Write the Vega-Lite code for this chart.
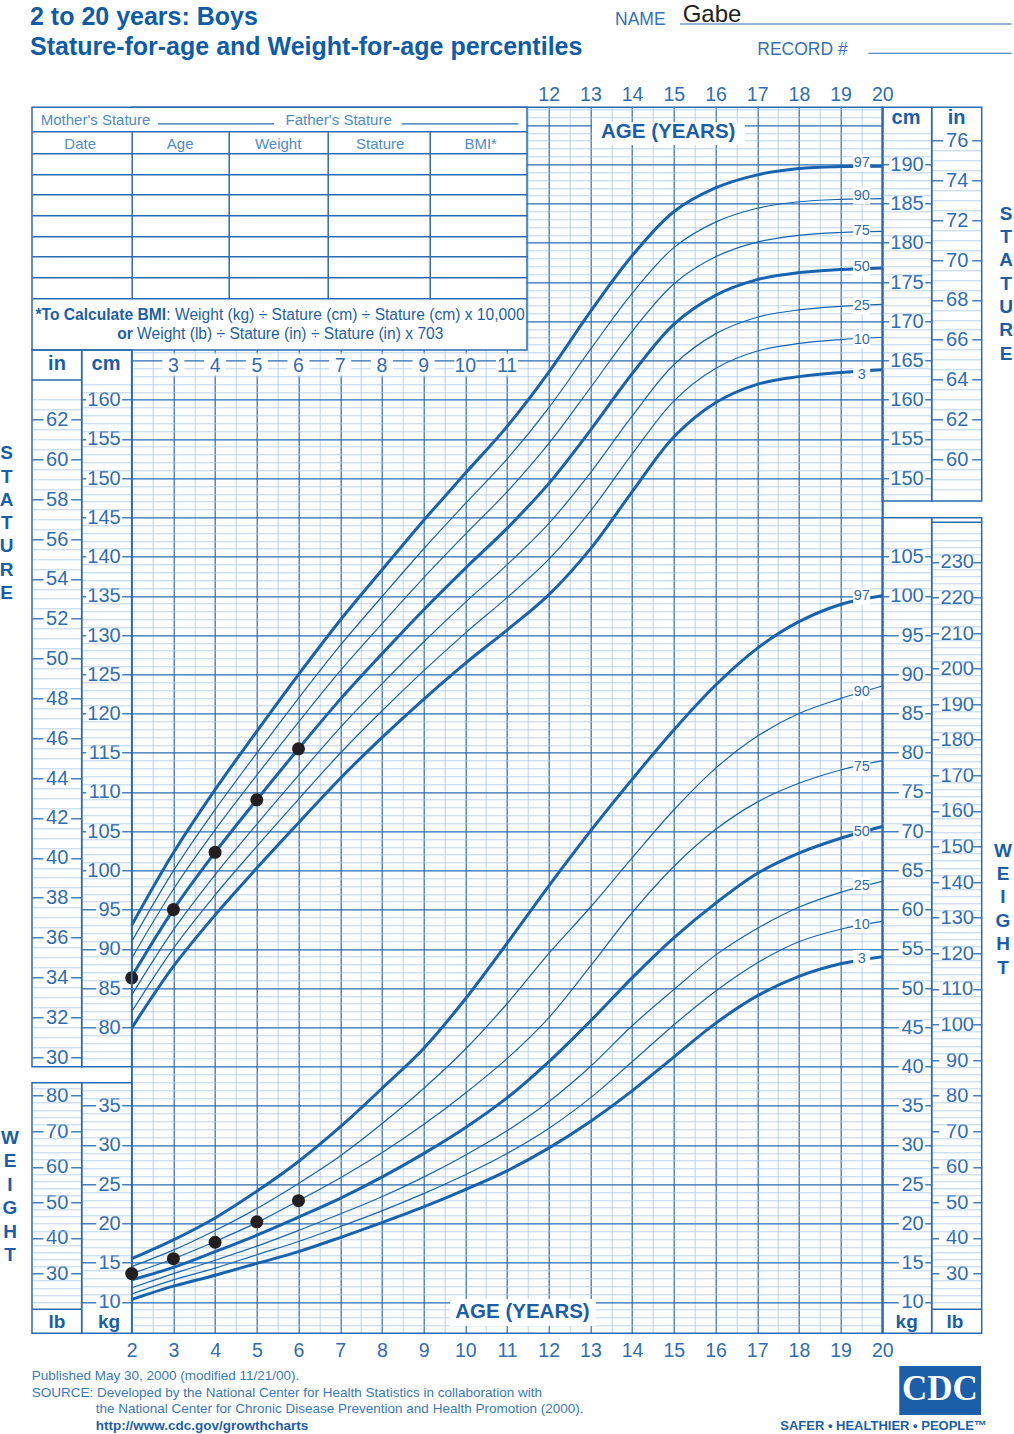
{
"$schema":"https://vega.github.io/schema/vega-lite/v6.json",
"width":750.6,"height":1226,"autosize":"none",
"padding":{"left":131.7,"top":107.3,"right":131.7,"bottom":100.7},
"background":"white",
"config":{"view":{"stroke":null},"axis":{"labelFont":"Liberation Sans","labelFlush":false,"labelOverlap":false,"labelBound":false},"text":{"font":"Liberation Sans"}},
"datasets":{
"stature":[
{"age":2,"p3":79.90,"p10":81.99,"p25":84.10,"p50":86.45,"p75":88.80,"p90":90.92,"p97":93.00},
{"age":3,"p3":87.76,"p10":90.07,"p25":92.41,"p50":95.0,"p75":97.60,"p90":99.93,"p97":102.24},
{"age":4,"p3":94.31,"p10":96.86,"p25":99.44,"p50":102.3,"p75":105.16,"p90":107.74,"p97":110.29},
{"age":5,"p3":100.29,"p10":103.06,"p25":105.88,"p50":109.0,"p75":112.13,"p90":114.94,"p97":117.71},
{"age":6,"p3":106.05,"p10":109.06,"p25":112.11,"p50":115.5,"p75":118.89,"p90":121.94,"p97":124.95},
{"age":7,"p3":111.72,"p10":114.93,"p25":118.19,"p50":121.8,"p75":125.42,"p90":128.67,"p97":131.88},
{"age":8,"p3":116.92,"p10":120.32,"p25":123.77,"p50":127.6,"p75":131.43,"p90":134.88,"p97":138.28},
{"age":9,"p3":121.80,"p10":125.43,"p25":129.11,"p50":133.2,"p75":137.29,"p90":140.97,"p97":144.60},
{"age":10,"p3":126.39,"p10":130.25,"p25":134.16,"p50":138.5,"p75":142.84,"p90":146.75,"p97":150.61},
{"age":11,"p3":130.63,"p10":134.77,"p25":138.95,"p50":143.6,"p75":148.25,"p90":152.43,"p97":156.57},
{"age":12,"p3":135.12,"p10":139.64,"p25":144.21,"p50":149.3,"p75":154.39,"p90":158.96,"p97":163.48},
{"age":13,"p3":140.98,"p10":145.80,"p25":150.68,"p50":156.1,"p75":161.52,"p90":166.40,"p97":171.22},
{"age":14,"p3":148.25,"p10":153.05,"p25":157.90,"p50":163.3,"p75":168.70,"p90":173.56,"p97":178.35},
{"age":15,"p3":155.24,"p10":159.82,"p25":164.45,"p50":169.6,"p75":174.75,"p90":179.38,"p97":183.96},
{"age":16,"p3":159.61,"p10":163.97,"p25":168.39,"p50":173.3,"p75":178.21,"p90":182.63,"p97":186.99},
{"age":17,"p3":161.95,"p10":166.20,"p25":170.51,"p50":175.3,"p75":180.09,"p90":184.40,"p97":188.66},
{"age":18,"p3":162.94,"p10":167.17,"p25":171.45,"p50":176.2,"p75":180.95,"p90":185.23,"p97":189.46},
{"age":19,"p3":163.48,"p10":167.66,"p25":171.90,"p50":176.6,"p75":181.31,"p90":185.54,"p97":189.72},
{"age":20,"p3":163.83,"p10":167.96,"p25":172.15,"p50":176.8,"p75":181.45,"p90":185.64,"p97":189.77}],
"weight":[
{"age":2,"p3":10.3,"p10":11.0,"p25":11.8,"p50":12.8,"p75":13.6,"p90":14.5,"p97":15.5},
{"age":3,"p3":12.0,"p10":12.8,"p25":13.6,"p50":14.4,"p75":15.5,"p90":16.6,"p97":17.9},
{"age":4,"p3":13.4,"p10":14.3,"p25":15.3,"p50":16.4,"p75":17.7,"p90":19.1,"p97":20.7},
{"age":5,"p3":14.9,"p10":16.0,"p25":17.1,"p50":18.5,"p75":20.1,"p90":21.9,"p97":24.1},
{"age":6,"p3":16.4,"p10":17.7,"p25":19.1,"p50":20.8,"p75":22.9,"p90":25.1,"p97":27.9},
{"age":7,"p3":18.2,"p10":19.6,"p25":21.2,"p50":23.2,"p75":25.8,"p90":28.6,"p97":32.3},
{"age":8,"p3":20.1,"p10":21.6,"p25":23.4,"p50":25.9,"p75":29.0,"p90":32.7,"p97":37.2},
{"age":9,"p3":22.1,"p10":23.8,"p25":25.9,"p50":28.9,"p75":32.6,"p90":37.2,"p97":42.3},
{"age":10,"p3":24.3,"p10":26.2,"p25":28.7,"p50":32.2,"p75":36.6,"p90":42.2,"p97":48.6},
{"age":11,"p3":26.7,"p10":28.9,"p25":31.8,"p50":36.0,"p75":41.0,"p90":48.0,"p97":55.7},
{"age":12,"p3":29.6,"p10":32.1,"p25":35.5,"p50":40.6,"p75":46.2,"p90":54.4,"p97":63.0},
{"age":13,"p3":33.0,"p10":36.0,"p25":40.0,"p50":45.8,"p75":52.8,"p90":60.3,"p97":70.0},
{"age":14,"p3":36.9,"p10":40.6,"p25":45.2,"p50":51.3,"p75":59.6,"p90":66.6,"p97":76.6},
{"age":15,"p3":41.2,"p10":45.3,"p25":49.8,"p50":56.4,"p75":65.5,"p90":72.7,"p97":82.9},
{"age":16,"p3":45.5,"p10":49.6,"p25":54.2,"p50":60.8,"p75":70.2,"p90":78.0,"p97":88.6},
{"age":17,"p3":49.0,"p10":53.2,"p25":57.6,"p50":64.6,"p75":73.7,"p90":82.1,"p97":93.3},
{"age":18,"p3":51.5,"p10":55.9,"p25":60.3,"p50":67.2,"p75":76.1,"p90":85.0,"p97":96.7},
{"age":19,"p3":53.1,"p10":57.5,"p25":62.2,"p50":69.1,"p75":77.8,"p90":86.9,"p97":98.9},
{"age":20,"p3":54.0,"p10":58.5,"p25":63.6,"p50":70.6,"p75":79.0,"p90":88.5,"p97":100.0}],
"statDots":[{"age":2,"cm":86.3},{"age":3,"cm":95.0},{"age":4,"cm":102.3},{"age":5,"cm":109.0},{"age":6,"cm":115.5}],
"wtDots":[{"age":2,"kg":13.6},{"age":3,"kg":15.5},{"age":4,"kg":17.6},{"age":5,"kg":20.2},{"age":6,"kg":22.9}],
"statLab":[{"pct":"97","cm":190.18},{"pct":"90","cm":185.97},{"pct":"75","cm":181.55},{"pct":"50","cm":176.88},{"pct":"25","cm":171.94},{"pct":"10","cm":167.6},{"pct":"3","cm":163.14}],
"wtLab":[{"pct":"97","kg":99.94},{"pct":"90","kg":87.76},{"pct":"75","kg":78.15},{"pct":"50","kg":69.86},{"pct":"25","kg":63.07},{"pct":"10","kg":58.09},{"pct":"3","kg":53.76}],
"gridAges":[{"age":3},{"age":4},{"age":5},{"age":6},{"age":7},{"age":8},{"age":9},{"age":10},{"age":11}]
},
"layer":[
{"layer":[
{"data":{"values":[{}]},"mark":{"type":"point","opacity":0},"encoding":{
"x":{"datum":2,"type":"quantitative","scale":{"domain":[2,20],"nice":false,"zero":false},"axis":{"orient":"bottom","title":null,"domain":false,"ticks":false,"labels":false,"grid":true,"gridColor":"#a9c8e8","gridWidth":0.8,"values":[2.5,3.5,4.5,5.5,6.5,7.5,8.5,9.5,10.5,11.5,12.5,13.5,14.5,15.5,16.5,17.5,18.5,19.5]}},
"y":{"datum":100,"type":"quantitative","scale":{"domain":[40.994,197.27],"nice":false,"zero":false},"axis":{"orient":"left","title":null,"domain":false,"ticks":false,"labels":false,"grid":true,"gridColor":"#a9c8e8","gridWidth":0.8,"values":[42,43,44,46,47,48,49,51,52,53,54,56,57,58,59,61,62,63,64,66,67,68,69,71,72,73,74,76,77,78,79,81,82,83,84,86,87,88,89,91,92,93,94,96,97,98,99,101,102,103,104,106,107,108,109,111,112,113,114,116,117,118,119,121,122,123,124,126,127,128,129,131,132,133,134,136,137,138,139,141,142,143,144,146,147,148,149,151,152,153,154,156,157,158,159,161,162,163,164,166,167,168,169,171,172,173,174,176,177,178,179,181,182,183,184,186,187,188,189,191,192,193,194,196,197]}}}},
{"data":{"values":[{}]},"mark":{"type":"point","opacity":0},"encoding":{
"x":{"datum":2,"type":"quantitative","scale":{"domain":[2,20],"nice":false,"zero":false},"axis":{"orient":"bottom","title":null,"domain":false,"ticks":false,"labels":false,"grid":true,"gridColor":"#2a6bb1","gridWidth":1.2,"values":[2,3,4,5,6,7,8,9,10,11,12,13,14,15,16,17,18,19,20]}},
"y":{"datum":100,"type":"quantitative","scale":{"domain":[40.994,197.27],"nice":false,"zero":false},"axis":{"orient":"left","title":null,"domain":false,"ticks":false,"labels":false,"grid":true,"gridColor":"#2a6bb1","gridWidth":1.2,"values":[45,50,55,60,65,70,75,80,85,90,95,100,105,110,115,120,125,130,135,140,145,150,155,160,165,170,175,180,185,190,195]}}}},
{"data":{"values":[{}]},"mark":{"type":"point","opacity":0},"encoding":{
"x":{"datum":2,"type":"quantitative","scale":{"domain":[2,20],"nice":false,"zero":false},"axis":{"orient":"top","title":null,"domain":false,"ticks":false,"grid":false,"labels":true,"values":[12,13,14,15,16,17,18,19,20],"labelFontSize":19.5,"labelColor":"#2f6db3","labelPadding":6.6,"labelBaseline":"alphabetic","labelAlign":"center"}},
"y":{"datum":100,"type":"quantitative","scale":{"domain":[40.994,197.27],"nice":false,"zero":false},"axis":{"orient":"left","offset":0,"title":null,"domain":false,"grid":false,"ticks":true,"tickSize":10,"tickColor":"#2a6bb1","tickWidth":1.3,"labels":true,"labelPadding":1.5,"labelFontSize":20,"labelColor":"#2f6db3","values":[80,85,90,95,100,105,110,115,120,125,130,135,140,145,150,155,160]}}}},
{"data":{"values":[{}]},"mark":{"type":"point","opacity":0},"encoding":{
"x":{"datum":2,"type":"quantitative","scale":{"domain":[2,20],"nice":false,"zero":false},"axis":{"orient":"bottom","title":null,"domain":false,"ticks":false,"grid":false,"labels":true,"values":[2,3,4,5,6,7,8,9,10,11,12,13,14,15,16,17,18,19,20],"labelFontSize":19.5,"labelColor":"#2f6db3","labelPadding":23.4,"labelBaseline":"alphabetic","labelAlign":"center"}},
"y":{"datum":100,"type":"quantitative","scale":{"domain":[40.994,197.27],"nice":false,"zero":false},"axis":{"orient":"right","offset":-800.6,"title":null,"domain":false,"grid":false,"ticks":true,"tickSize":4,"tickColor":"#2a6bb1","tickWidth":1.3,"labels":false,"values":[100,105,110,115,120,125,130,135,140,145,150,155,160]}}}},
{"data":{"values":[{}]},"mark":{"type":"point","opacity":0},"encoding":{
"x":{"datum":2,"type":"quantitative","scale":{"domain":[2,20],"nice":false,"zero":false},"axis":null},
"y":{"datum":100,"type":"quantitative","scale":{"domain":[40.994,197.27],"nice":false,"zero":false},"axis":{"orient":"right","offset":-800.6,"title":null,"domain":false,"grid":false,"ticks":true,"tickSize":14,"tickColor":"#2a6bb1","tickWidth":1.3,"labels":false,"values":[80,85,90,95]}}}},
{"data":{"values":[{}]},"mark":{"type":"point","opacity":0},"encoding":{
"x":{"datum":2,"type":"quantitative","scale":{"domain":[2,20],"nice":false,"zero":false},"axis":null},
"y":{"datum":100,"type":"quantitative","scale":{"domain":[40.994,197.27],"nice":false,"zero":false},"axis":{"orient":"left","offset":0,"title":null,"domain":false,"grid":false,"ticks":true,"tickSize":50,"tickColor":"#a9c8e8","tickWidth":0.8,"labels":false,"values":[76,77,78,79,81,82,83,84,86,87,88,89,91,92,93,94,96,97,98,99,101,102,103,104,106,107,108,109,111,112,113,114,116,117,118,119,121,122,123,124,126,127,128,129,131,132,133,134,136,137,138,139,141,142,143,144,146,147,148,149,151,152,153,154,156,157,158,159,161,162]}}}},
{"data":{"values":[{}]},"mark":{"type":"point","opacity":0},"encoding":{
"x":{"datum":2,"type":"quantitative","scale":{"domain":[2,20],"nice":false,"zero":false},"axis":null},
"y":{"datum":100,"type":"quantitative","scale":{"domain":[40.994,197.27],"nice":false,"zero":false},"axis":{"orient":"left","offset":-800,"title":null,"domain":false,"grid":false,"ticks":true,"tickSize":7,"tickColor":"#2a6bb1","tickWidth":1.3,"labels":true,"labelPadding":1.5,"labelFontSize":20,"labelColor":"#2f6db3","values":[150,155,160,165,170,175,180,185,190]}}}},
{"data":{"values":[{}]},"mark":{"type":"point","opacity":0},"encoding":{
"x":{"datum":2,"type":"quantitative","scale":{"domain":[2,20],"nice":false,"zero":false},"axis":null},
"y":{"datum":100,"type":"quantitative","scale":{"domain":[40.994,197.27],"nice":false,"zero":false},"axis":{"orient":"right","offset":0,"title":null,"domain":false,"grid":false,"ticks":true,"tickSize":6.3,"tickColor":"#2a6bb1","tickWidth":1.3,"labels":false,"values":[150,155,160,165,170,175,180,185,190]}}}},
{"data":{"values":[{}]},"mark":{"type":"point","opacity":0},"encoding":{
"x":{"datum":2,"type":"quantitative","scale":{"domain":[2,20],"nice":false,"zero":false},"axis":null},
"y":{"datum":100,"type":"quantitative","scale":{"domain":[40.994,197.27],"nice":false,"zero":false},"axis":{"orient":"right","offset":0,"title":null,"domain":false,"grid":false,"ticks":true,"tickSize":49.4,"tickColor":"#a9c8e8","tickWidth":0.8,"labels":false,"values":[148,149,151,152,153,154,156,157,158,159,161,162,163,164,166,167,168,169,171,172,173,174,176,177,178,179,181,182,183,184,186,187,188,189,191,192,193,194]}}}},
{"data":{"values":[{}]},"mark":{"type":"point","opacity":0},"encoding":{
"x":{"datum":2,"type":"quantitative","scale":{"domain":[2,20],"nice":false,"zero":false},"axis":{"orient":"top","offset":-191.4,"title":null,"domain":false,"grid":false,"labels":false,"ticks":true,"tickSize":167,"tickColor":"#2a6bb1","tickWidth":1.5,"values":[2,4.3333,6.7074,9.1535],"zindex":2}},
"y":{"datum":100,"type":"quantitative","scale":{"domain":[40.994,197.27],"nice":false,"zero":false},"axis":{"orient":"left","offset":-395.3,"title":null,"domain":false,"grid":false,"labels":false,"ticks":true,"tickSize":495,"tickColor":"#2a6bb1","tickWidth":1.5,"values":[194.16,191.41,188.77,186.13,183.51,180.87,178.23,175.60,172.87],"zindex":2}}}},
{"data":{"name":"stature"},"transform":[{"fold":["p3","p10","p25","p50","p75","p90","p97"],"as":["pct","cm"]}],
"mark":{"type":"line","interpolate":"catmull-rom","color":"#1763ad"},
"encoding":{"x":{"field":"age","type":"quantitative","scale":{"domain":[2,20],"nice":false,"zero":false},"axis":null},
"y":{"field":"cm","type":"quantitative","scale":{"domain":[40.994,197.27],"nice":false,"zero":false},"axis":null},
"detail":{"field":"pct","type":"nominal"},
"strokeWidth":{"field":"pct","type":"nominal","scale":{"type":"ordinal","domain":["p3","p10","p25","p50","p75","p90","p97"],"range":[3,1.2,1.2,3,1.2,1.2,3]},"legend":null}}},
{"data":{"name":"statLab"},"mark":{"type":"point","shape":"square","filled":true,"color":"white","opacity":1,"size":289,"strokeWidth":0},
"encoding":{"x":{"datum":19.506,"type":"quantitative","scale":{"domain":[2,20],"nice":false,"zero":false},"axis":null},"y":{"field":"cm","type":"quantitative","scale":{"domain":[40.994,197.27],"nice":false,"zero":false},"axis":null}}},
{"data":{"name":"statLab"},"mark":{"type":"text","fontSize":14.5,"color":"#2f6db3","align":"center","baseline":"middle"},
"encoding":{"x":{"datum":19.506,"type":"quantitative","scale":{"domain":[2,20],"nice":false,"zero":false},"axis":null},"y":{"field":"cm","type":"quantitative","scale":{"domain":[40.994,197.27],"nice":false,"zero":false},"axis":null},"text":{"field":"pct"}}},
{"data":{"name":"statDots"},"mark":{"type":"circle","color":"#231f20","opacity":1,"size":170},
"encoding":{"x":{"field":"age","type":"quantitative","scale":{"domain":[2,20],"nice":false,"zero":false},"axis":null},"y":{"field":"cm","type":"quantitative","scale":{"domain":[40.994,197.27],"nice":false,"zero":false},"axis":null}}},
{"data":{"values":[{}]},"mark":{"type":"rect","filled":false,"stroke":"#2a6bb1","strokeWidth":1.5},
"encoding":{"x":{"datum":2,"type":"quantitative","scale":{"domain":[2,20],"nice":false,"zero":false},"axis":null},"x2":{"datum":20},"y":{"datum":197.27,"type":"quantitative","scale":{"domain":[40.994,197.27],"nice":false,"zero":false},"axis":null},"y2":{"datum":40.994}}},
{"data":{"values":[{}]},"mark":{"type":"rect","fill":"white","stroke":"#2a6bb1","strokeWidth":1.5},
"encoding":{"x":{"datum":-0.3909,"type":"quantitative","scale":{"domain":[2,20],"nice":false,"zero":false},"axis":null},"x2":{"datum":11.4796},"y":{"datum":197.27,"type":"quantitative","scale":{"domain":[40.994,197.27],"nice":false,"zero":false},"axis":null},"y2":{"datum":166.34}}},
{"data":{"values":[{}]},"mark":{"type":"rule","color":"#2a6bb1","strokeWidth":1.2},
"encoding":{"x":{"datum":2.6307,"type":"quantitative","scale":{"domain":[2,20],"nice":false,"zero":false},"axis":null},"x2":{"datum":5.4125},"y":{"datum":195.15,"type":"quantitative","scale":{"domain":[40.994,197.27],"nice":false,"zero":false},"axis":null}}},
{"data":{"values":[{}]},"mark":{"type":"rule","color":"#2a6bb1","strokeWidth":1.2},
"encoding":{"x":{"datum":8.4748,"type":"quantitative","scale":{"domain":[2,20],"nice":false,"zero":false},"axis":null},"x2":{"datum":11.2710},"y":{"datum":195.15,"type":"quantitative","scale":{"domain":[40.994,197.27],"nice":false,"zero":false},"axis":null}}},
{"data":{"values":[{}]},"mark":{"type":"text","text":"Mother's Stature","align":"left","baseline":"alphabetic","fontSize":15,"color":"#4f8bc9"},
"encoding":{"x":{"datum":-0.1823,"type":"quantitative","scale":{"domain":[2,20],"nice":false,"zero":false},"axis":null},"y":{"datum":195.02,"type":"quantitative","scale":{"domain":[40.994,197.27],"nice":false,"zero":false},"axis":null}}},
{"data":{"values":[{}]},"mark":{"type":"text","text":"Father's Stature","align":"left","baseline":"alphabetic","fontSize":15,"color":"#4f8bc9"},
"encoding":{"x":{"datum":5.6883,"type":"quantitative","scale":{"domain":[2,20],"nice":false,"zero":false},"axis":null},"y":{"datum":195.02,"type":"quantitative","scale":{"domain":[40.994,197.27],"nice":false,"zero":false},"axis":null}}},
{"data":{"values":[{}]},"mark":{"type":"text","text":"Date","align":"center","baseline":"alphabetic","fontSize":15,"color":"#4f8bc9"},
"encoding":{"x":{"datum":0.765,"type":"quantitative","scale":{"domain":[2,20],"nice":false,"zero":false},"axis":null},"y":{"datum":191.96,"type":"quantitative","scale":{"domain":[40.994,197.27],"nice":false,"zero":false},"axis":null}}},
{"data":{"values":[{}]},"mark":{"type":"text","text":"Age","align":"center","baseline":"alphabetic","fontSize":15,"color":"#4f8bc9"},
"encoding":{"x":{"datum":3.163,"type":"quantitative","scale":{"domain":[2,20],"nice":false,"zero":false},"axis":null},"y":{"datum":191.96,"type":"quantitative","scale":{"domain":[40.994,197.27],"nice":false,"zero":false},"axis":null}}},
{"data":{"values":[{}]},"mark":{"type":"text","text":"Weight","align":"center","baseline":"alphabetic","fontSize":15,"color":"#4f8bc9"},
"encoding":{"x":{"datum":5.511,"type":"quantitative","scale":{"domain":[2,20],"nice":false,"zero":false},"axis":null},"y":{"datum":191.96,"type":"quantitative","scale":{"domain":[40.994,197.27],"nice":false,"zero":false},"axis":null}}},
{"data":{"values":[{}]},"mark":{"type":"text","text":"Stature","align":"center","baseline":"alphabetic","fontSize":15,"color":"#4f8bc9"},
"encoding":{"x":{"datum":7.959,"type":"quantitative","scale":{"domain":[2,20],"nice":false,"zero":false},"axis":null},"y":{"datum":191.96,"type":"quantitative","scale":{"domain":[40.994,197.27],"nice":false,"zero":false},"axis":null}}},
{"data":{"values":[{}]},"mark":{"type":"text","text":"BMI*","align":"center","baseline":"alphabetic","fontSize":15,"color":"#4f8bc9"},
"encoding":{"x":{"datum":10.369,"type":"quantitative","scale":{"domain":[2,20],"nice":false,"zero":false},"axis":null},"y":{"datum":191.96,"type":"quantitative","scale":{"domain":[40.994,197.27],"nice":false,"zero":false},"axis":null}}},
{"data":{"values":[{}]},"mark":{"type":"text","text":"*To Calculate BMI","align":"left","baseline":"alphabetic","fontSize":15.6,"fontWeight":"bold","color":"#1d5fa7"},
"encoding":{"x":{"datum":-0.307,"type":"quantitative","scale":{"domain":[2,20],"nice":false,"zero":false},"axis":null},"y":{"datum":170.16,"type":"quantitative","scale":{"domain":[40.994,197.27],"nice":false,"zero":false},"axis":null}}},
{"data":{"values":[{}]},"mark":{"type":"text","text":": Weight (kg) ÷ Stature (cm) ÷ Stature (cm) x 10,000","align":"left","baseline":"alphabetic","fontSize":15.6,"color":"#1d5fa7"},
"encoding":{"x":{"datum":2.8297,"type":"quantitative","scale":{"domain":[2,20],"nice":false,"zero":false},"axis":null},"y":{"datum":170.16,"type":"quantitative","scale":{"domain":[40.994,197.27],"nice":false,"zero":false},"axis":null}}},
{"data":{"values":[{}]},"mark":{"type":"text","text":"or","align":"left","baseline":"alphabetic","fontSize":15.6,"fontWeight":"bold","color":"#1d5fa7"},
"encoding":{"x":{"datum":1.6523,"type":"quantitative","scale":{"domain":[2,20],"nice":false,"zero":false},"axis":null},"y":{"datum":167.74,"type":"quantitative","scale":{"domain":[40.994,197.27],"nice":false,"zero":false},"axis":null}}},
{"data":{"values":[{}]},"mark":{"type":"text","text":"Weight (lb) ÷ Stature (in) ÷ Stature (in) x 703","align":"left","baseline":"alphabetic","fontSize":15.6,"color":"#1d5fa7"},
"encoding":{"x":{"datum":2.1295,"type":"quantitative","scale":{"domain":[2,20],"nice":false,"zero":false},"axis":null},"y":{"datum":167.74,"type":"quantitative","scale":{"domain":[40.994,197.27],"nice":false,"zero":false},"axis":null}}},
{"data":{"name":"gridAges"},"mark":{"type":"point","shape":"square","filled":true,"color":"white","opacity":1,"size":484,"strokeWidth":0},
"encoding":{"x":{"field":"age","type":"quantitative","scale":{"domain":[2,20],"nice":false,"zero":false},"axis":null},"y":{"datum":164.46,"type":"quantitative","scale":{"domain":[40.994,197.27],"nice":false,"zero":false},"axis":null}}},
{"data":{"name":"gridAges"},"mark":{"type":"text","fontSize":19.5,"color":"#2f6db3","align":"center","baseline":"alphabetic"},
"encoding":{"x":{"field":"age","type":"quantitative","scale":{"domain":[2,20],"nice":false,"zero":false},"axis":null},"y":{"datum":163.57,"type":"quantitative","scale":{"domain":[40.994,197.27],"nice":false,"zero":false},"axis":null},"text":{"field":"age","type":"quantitative"}}},
{"data":{"values":[{}]},"mark":{"type":"rect","color":"white"},
"encoding":{"x":{"datum":13.0384,"type":"quantitative","scale":{"domain":[2,20],"nice":false,"zero":false},"axis":null},"x2":{"datum":16.7074},"y":{"datum":195.40,"type":"quantitative","scale":{"domain":[40.994,197.27],"nice":false,"zero":false},"axis":null},"y2":{"datum":192.47}}},
{"data":{"values":[{}]},"mark":{"type":"text","text":"AGE (YEARS)","align":"center","baseline":"alphabetic","fontSize":20.5,"fontWeight":"bold","color":"#1b5ea8"},
"encoding":{"x":{"datum":14.866,"type":"quantitative","scale":{"domain":[2,20],"nice":false,"zero":false},"axis":null},"y":{"datum":193.32,"type":"quantitative","scale":{"domain":[40.994,197.27],"nice":false,"zero":false},"axis":null}}},
{"data":{"values":[{}]},"mark":{"type":"rect","color":"white"},
"encoding":{"x":{"datum":9.633,"type":"quantitative","scale":{"domain":[2,20],"nice":false,"zero":false},"axis":null},"x2":{"datum":13.1343},"y":{"datum":45.37,"type":"quantitative","scale":{"domain":[40.994,197.27],"nice":false,"zero":false},"axis":null},"y2":{"datum":41.93}}},
{"data":{"values":[{}]},"mark":{"type":"text","text":"AGE (YEARS)","align":"center","baseline":"alphabetic","fontSize":20.5,"fontWeight":"bold","color":"#1b5ea8"},
"encoding":{"x":{"datum":11.3717,"type":"quantitative","scale":{"domain":[2,20],"nice":false,"zero":false},"axis":null},"y":{"datum":42.94,"type":"quantitative","scale":{"domain":[40.994,197.27],"nice":false,"zero":false},"axis":null}}},
{"data":{"values":[{}]},"mark":{"type":"rect","filled":false,"stroke":"#2a6bb1","strokeWidth":1.5},
"encoding":{"x":{"datum":-0.3909,"type":"quantitative","scale":{"domain":[2,20],"nice":false,"zero":false},"axis":null},"x2":{"datum":0.801},"y":{"datum":166.34,"type":"quantitative","scale":{"domain":[40.994,197.27],"nice":false,"zero":false},"axis":null},"y2":{"datum":74.98}}},
{"data":{"values":[{}]},"mark":{"type":"rect","filled":false,"stroke":"#2a6bb1","strokeWidth":1.5},
"encoding":{"x":{"datum":0.801,"type":"quantitative","scale":{"domain":[2,20],"nice":false,"zero":false},"axis":null},"x2":{"datum":2},"y":{"datum":166.34,"type":"quantitative","scale":{"domain":[40.994,197.27],"nice":false,"zero":false},"axis":null},"y2":{"datum":74.98}}},
{"data":{"values":[{}]},"mark":{"type":"rect","filled":false,"stroke":"#2a6bb1","strokeWidth":1.5},
"encoding":{"x":{"datum":-0.3909,"type":"quantitative","scale":{"domain":[2,20],"nice":false,"zero":false},"axis":null},"x2":{"datum":0.801},"y":{"datum":72.94,"type":"quantitative","scale":{"domain":[40.994,197.27],"nice":false,"zero":false},"axis":null},"y2":{"datum":40.994}}},
{"data":{"values":[{}]},"mark":{"type":"rect","filled":false,"stroke":"#2a6bb1","strokeWidth":1.5},
"encoding":{"x":{"datum":0.801,"type":"quantitative","scale":{"domain":[2,20],"nice":false,"zero":false},"axis":null},"x2":{"datum":2},"y":{"datum":72.94,"type":"quantitative","scale":{"domain":[40.994,197.27],"nice":false,"zero":false},"axis":null},"y2":{"datum":40.994}}},
{"data":{"values":[{}]},"mark":{"type":"rect","filled":false,"stroke":"#2a6bb1","strokeWidth":1.5},
"encoding":{"x":{"datum":20,"type":"quantitative","scale":{"domain":[2,20],"nice":false,"zero":false},"axis":null},"x2":{"datum":21.1847},"y":{"datum":197.27,"type":"quantitative","scale":{"domain":[40.994,197.27],"nice":false,"zero":false},"axis":null},"y2":{"datum":147.09}}},
{"data":{"values":[{}]},"mark":{"type":"rect","filled":false,"stroke":"#2a6bb1","strokeWidth":1.5},
"encoding":{"x":{"datum":21.1847,"type":"quantitative","scale":{"domain":[2,20],"nice":false,"zero":false},"axis":null},"x2":{"datum":22.3837},"y":{"datum":197.27,"type":"quantitative","scale":{"domain":[40.994,197.27],"nice":false,"zero":false},"axis":null},"y2":{"datum":147.09}}},
{"data":{"values":[{}]},"mark":{"type":"rect","filled":false,"stroke":"#2a6bb1","strokeWidth":1.5},
"encoding":{"x":{"datum":20,"type":"quantitative","scale":{"domain":[2,20],"nice":false,"zero":false},"axis":null},"x2":{"datum":21.1847},"y":{"datum":144.96,"type":"quantitative","scale":{"domain":[40.994,197.27],"nice":false,"zero":false},"axis":null},"y2":{"datum":40.994}}},
{"data":{"values":[{}]},"mark":{"type":"rect","filled":false,"stroke":"#2a6bb1","strokeWidth":1.5},
"encoding":{"x":{"datum":21.1847,"type":"quantitative","scale":{"domain":[2,20],"nice":false,"zero":false},"axis":null},"x2":{"datum":22.3837},"y":{"datum":144.96,"type":"quantitative","scale":{"domain":[40.994,197.27],"nice":false,"zero":false},"axis":null},"y2":{"datum":40.994}}},
{"data":{"values":[{}]},"mark":{"type":"rule","color":"#2a6bb1","strokeWidth":1.5},
"encoding":{"x":{"datum":-0.3909,"type":"quantitative","scale":{"domain":[2,20],"nice":false,"zero":false},"axis":null},"x2":{"datum":0.801},"y":{"datum":162.51,"type":"quantitative","scale":{"domain":[40.994,197.27],"nice":false,"zero":false},"axis":null}}},
{"data":{"values":[{}]},"mark":{"type":"rule","color":"#2a6bb1","strokeWidth":1.5},
"encoding":{"x":{"datum":-0.3909,"type":"quantitative","scale":{"domain":[2,20],"nice":false,"zero":false},"axis":null},"x2":{"datum":0.801},"y":{"datum":44.05,"type":"quantitative","scale":{"domain":[40.994,197.27],"nice":false,"zero":false},"axis":null}}},
{"data":{"values":[{}]},"mark":{"type":"rule","color":"#2a6bb1","strokeWidth":1.5},
"encoding":{"x":{"datum":21.1847,"type":"quantitative","scale":{"domain":[2,20],"nice":false,"zero":false},"axis":null},"x2":{"datum":22.3837},"y":{"datum":44.05,"type":"quantitative","scale":{"domain":[40.994,197.27],"nice":false,"zero":false},"axis":null}}},
{"data":{"values":[{}]},"mark":{"type":"rule","color":"#2a6bb1","strokeWidth":1.5},
"encoding":{"x":{"datum":21.1847,"type":"quantitative","scale":{"domain":[2,20],"nice":false,"zero":false},"axis":null},"x2":{"datum":22.3837},"y":{"datum":144.37,"type":"quantitative","scale":{"domain":[40.994,197.27],"nice":false,"zero":false},"axis":null}}},
{"data":{"values":[{}]},"mark":{"type":"text","text":"in","align":"center","baseline":"alphabetic","fontSize":20,"fontWeight":"bold","color":"#1b5ea8"},
"encoding":{"x":{"datum":0.2086,"type":"quantitative","scale":{"domain":[2,20],"nice":false,"zero":false},"axis":null},"y":{"datum":163.79,"type":"quantitative","scale":{"domain":[40.994,197.27],"nice":false,"zero":false},"axis":null}}},
{"data":{"values":[{}]},"mark":{"type":"text","text":"cm","align":"center","baseline":"alphabetic","fontSize":20,"fontWeight":"bold","color":"#1b5ea8"},
"encoding":{"x":{"datum":1.3837,"type":"quantitative","scale":{"domain":[2,20],"nice":false,"zero":false},"axis":null},"y":{"datum":163.79,"type":"quantitative","scale":{"domain":[40.994,197.27],"nice":false,"zero":false},"axis":null}}},
{"data":{"values":[{}]},"mark":{"type":"text","text":"lb","align":"center","baseline":"alphabetic","fontSize":19,"fontWeight":"bold","color":"#1b5ea8"},
"encoding":{"x":{"datum":0.2086,"type":"quantitative","scale":{"domain":[2,20],"nice":false,"zero":false},"axis":null},"y":{"datum":41.72,"type":"quantitative","scale":{"domain":[40.994,197.27],"nice":false,"zero":false},"axis":null}}},
{"data":{"values":[{}]},"mark":{"type":"text","text":"kg","align":"center","baseline":"alphabetic","fontSize":19,"fontWeight":"bold","color":"#1b5ea8"},
"encoding":{"x":{"datum":1.4556,"type":"quantitative","scale":{"domain":[2,20],"nice":false,"zero":false},"axis":null},"y":{"datum":41.72,"type":"quantitative","scale":{"domain":[40.994,197.27],"nice":false,"zero":false},"axis":null}}},
{"data":{"values":[{}]},"mark":{"type":"text","text":"kg","align":"center","baseline":"alphabetic","fontSize":19,"fontWeight":"bold","color":"#1b5ea8"},
"encoding":{"x":{"datum":20.585,"type":"quantitative","scale":{"domain":[2,20],"nice":false,"zero":false},"axis":null},"y":{"datum":41.72,"type":"quantitative","scale":{"domain":[40.994,197.27],"nice":false,"zero":false},"axis":null}}},
{"data":{"values":[{}]},"mark":{"type":"text","text":"lb","align":"center","baseline":"alphabetic","fontSize":19,"fontWeight":"bold","color":"#1b5ea8"},
"encoding":{"x":{"datum":21.743,"type":"quantitative","scale":{"domain":[2,20],"nice":false,"zero":false},"axis":null},"y":{"datum":41.72,"type":"quantitative","scale":{"domain":[40.994,197.27],"nice":false,"zero":false},"axis":null}}},
{"data":{"values":[{}]},"mark":{"type":"text","text":"cm","align":"center","baseline":"alphabetic","fontSize":20,"fontWeight":"bold","color":"#1b5ea8"},
"encoding":{"x":{"datum":20.568,"type":"quantitative","scale":{"domain":[2,20],"nice":false,"zero":false},"axis":null},"y":{"datum":195.10,"type":"quantitative","scale":{"domain":[40.994,197.27],"nice":false,"zero":false},"axis":null}}},
{"data":{"values":[{}]},"mark":{"type":"text","text":"in","align":"center","baseline":"alphabetic","fontSize":20,"fontWeight":"bold","color":"#1b5ea8"},
"encoding":{"x":{"datum":21.784,"type":"quantitative","scale":{"domain":[2,20],"nice":false,"zero":false},"axis":null},"y":{"datum":195.10,"type":"quantitative","scale":{"domain":[40.994,197.27],"nice":false,"zero":false},"axis":null}}},
{"data":{"values":[{}]},"mark":{"type":"text","text":["S","T","A","T","U","R","E"],"lineHeight":23.3,"align":"center","baseline":"alphabetic","fontSize":19,"fontWeight":"bold","color":"#1b5ea8"},
"encoding":{"x":{"datum":-0.9976,"type":"quantitative","scale":{"domain":[2,20],"nice":false,"zero":false},"axis":null},"y":{"datum":152.40,"type":"quantitative","scale":{"domain":[40.994,197.27],"nice":false,"zero":false},"axis":null}}},
{"data":{"values":[{}]},"mark":{"type":"text","text":["W","E","I","G","H","T"],"lineHeight":23.4,"align":"center","baseline":"alphabetic","fontSize":19,"fontWeight":"bold","color":"#1b5ea8"},
"encoding":{"x":{"datum":-0.9185,"type":"quantitative","scale":{"domain":[2,20],"nice":false,"zero":false},"axis":null},"y":{"datum":65.12,"type":"quantitative","scale":{"domain":[40.994,197.27],"nice":false,"zero":false},"axis":null}}},
{"data":{"values":[{}]},"mark":{"type":"text","text":["S","T","A","T","U","R","E"],"lineHeight":23.3,"align":"center","baseline":"alphabetic","fontSize":19,"fontWeight":"bold","color":"#1b5ea8"},
"encoding":{"x":{"datum":22.9664,"type":"quantitative","scale":{"domain":[2,20],"nice":false,"zero":false},"axis":null},"y":{"datum":182.94,"type":"quantitative","scale":{"domain":[40.994,197.27],"nice":false,"zero":false},"axis":null}}},
{"data":{"values":[{}]},"mark":{"type":"text","text":["W","E","I","G","H","T"],"lineHeight":23.4,"align":"center","baseline":"alphabetic","fontSize":19,"fontWeight":"bold","color":"#1b5ea8"},
"encoding":{"x":{"datum":22.8945,"type":"quantitative","scale":{"domain":[2,20],"nice":false,"zero":false},"axis":null},"y":{"datum":101.75,"type":"quantitative","scale":{"domain":[40.994,197.27],"nice":false,"zero":false},"axis":null}}},
{"data":{"values":[{}]},"mark":{"type":"text","text":"2 to 20 years: Boys","align":"left","baseline":"alphabetic","fontSize":25,"fontWeight":"bold","color":"#0f5ca6"},
"encoding":{"x":{"datum":-0.4388,"type":"quantitative","scale":{"domain":[2,20],"nice":false,"zero":false},"axis":null},"y":{"datum":207.76,"type":"quantitative","scale":{"domain":[40.994,197.27],"nice":false,"zero":false},"axis":null}}},
{"data":{"values":[{}]},"mark":{"type":"text","text":"Stature-for-age and Weight-for-age percentiles","align":"left","baseline":"alphabetic","fontSize":25,"fontWeight":"bold","color":"#0f5ca6"},
"encoding":{"x":{"datum":-0.4388,"type":"quantitative","scale":{"domain":[2,20],"nice":false,"zero":false},"axis":null},"y":{"datum":204.0,"type":"quantitative","scale":{"domain":[40.994,197.27],"nice":false,"zero":false},"axis":null}}},
{"data":{"values":[{}]},"mark":{"type":"text","text":"NAME","align":"left","baseline":"alphabetic","fontSize":17.5,"color":"#3670b4"},
"encoding":{"x":{"datum":13.59,"type":"quantitative","scale":{"domain":[2,20],"nice":false,"zero":false},"axis":null},"y":{"datum":207.76,"type":"quantitative","scale":{"domain":[40.994,197.27],"nice":false,"zero":false},"axis":null}}},
{"data":{"values":[{}]},"mark":{"type":"text","text":"Gabe","align":"left","baseline":"alphabetic","fontSize":24,"color":"#231f20"},
"encoding":{"x":{"datum":15.2134,"type":"quantitative","scale":{"domain":[2,20],"nice":false,"zero":false},"axis":null},"y":{"datum":208.2,"type":"quantitative","scale":{"domain":[40.994,197.27],"nice":false,"zero":false},"axis":null}}},
{"data":{"values":[{}]},"mark":{"type":"rule","color":"#2f6db3","strokeWidth":1.2},
"encoding":{"x":{"datum":15.1487,"type":"quantitative","scale":{"domain":[2,20],"nice":false,"zero":false},"axis":null},"x2":{"datum":23.1031},"y":{"datum":207.89,"type":"quantitative","scale":{"domain":[40.994,197.27],"nice":false,"zero":false},"axis":null}}},
{"data":{"values":[{}]},"mark":{"type":"text","text":"RECORD #","align":"left","baseline":"alphabetic","fontSize":17.5,"color":"#3670b4"},
"encoding":{"x":{"datum":17.0024,"type":"quantitative","scale":{"domain":[2,20],"nice":false,"zero":false},"axis":null},"y":{"datum":203.94,"type":"quantitative","scale":{"domain":[40.994,197.27],"nice":false,"zero":false},"axis":null}}},
{"data":{"values":[{}]},"mark":{"type":"rule","color":"#2f6db3","strokeWidth":1.2},
"encoding":{"x":{"datum":19.6643,"type":"quantitative","scale":{"domain":[2,20],"nice":false,"zero":false},"axis":null},"x2":{"datum":23.1031},"y":{"datum":204.16,"type":"quantitative","scale":{"domain":[40.994,197.27],"nice":false,"zero":false},"axis":null}}},
{"data":{"values":[{}]},"mark":{"type":"text","text":"Published May 30, 2000 (modified 11/21/00).","align":"left","baseline":"alphabetic","fontSize":13.5,"color":"#3b78bb"},
"encoding":{"x":{"datum":-0.3981,"type":"quantitative","scale":{"domain":[2,20],"nice":false,"zero":false},"axis":null},"y":{"datum":35.04,"type":"quantitative","scale":{"domain":[40.994,197.27],"nice":false,"zero":false},"axis":null}}},
{"data":{"values":[{}]},"mark":{"type":"text","text":"SOURCE: Developed by the National Center for Health Statistics in collaboration with","align":"left","baseline":"alphabetic","fontSize":13.5,"color":"#3b78bb"},
"encoding":{"x":{"datum":-0.3981,"type":"quantitative","scale":{"domain":[2,20],"nice":false,"zero":false},"axis":null},"y":{"datum":32.91,"type":"quantitative","scale":{"domain":[40.994,197.27],"nice":false,"zero":false},"axis":null}}},
{"data":{"values":[{}]},"mark":{"type":"text","text":"the National Center for Chronic Disease Prevention and Health Promotion (2000).","align":"left","baseline":"alphabetic","fontSize":13.5,"color":"#3b78bb"},
"encoding":{"x":{"datum":1.1367,"type":"quantitative","scale":{"domain":[2,20],"nice":false,"zero":false},"axis":null},"y":{"datum":30.80,"type":"quantitative","scale":{"domain":[40.994,197.27],"nice":false,"zero":false},"axis":null}}},
{"data":{"values":[{}]},"mark":{"type":"text","text":"http://www.cdc.gov/growthcharts","align":"left","baseline":"alphabetic","fontSize":13.5,"fontWeight":"bold","color":"#1d5ea6"},
"encoding":{"x":{"datum":1.1367,"type":"quantitative","scale":{"domain":[2,20],"nice":false,"zero":false},"axis":null},"y":{"datum":28.67,"type":"quantitative","scale":{"domain":[40.994,197.27],"nice":false,"zero":false},"axis":null}}},
{"data":{"values":[{}]},"mark":{"type":"rect","color":"#1b5fa8"},
"encoding":{"x":{"datum":20.4077,"type":"quantitative","scale":{"domain":[2,20],"nice":false,"zero":false},"axis":null},"x2":{"datum":22.3669},"y":{"datum":36.83,"type":"quantitative","scale":{"domain":[40.994,197.27],"nice":false,"zero":false},"axis":null},"y2":{"datum":30.58}}},
{"data":{"values":[{}]},"mark":{"type":"text","text":"CDC","align":"center","baseline":"alphabetic","fontSize":35,"fontWeight":"bold","font":"Liberation Serif","color":"white"},
"encoding":{"x":{"datum":21.3813,"type":"quantitative","scale":{"domain":[2,20],"nice":false,"zero":false},"axis":null},"y":{"datum":32.52,"type":"quantitative","scale":{"domain":[40.994,197.27],"nice":false,"zero":false},"axis":null}}},
{"data":{"values":[{}]},"mark":{"type":"text","text":"SAFER • HEALTHIER • PEOPLE™","align":"center","baseline":"alphabetic","fontSize":13,"fontWeight":"bold","color":"#1b5fa8"},
"encoding":{"x":{"datum":20.0312,"type":"quantitative","scale":{"domain":[2,20],"nice":false,"zero":false},"axis":null},"y":{"datum":28.67,"type":"quantitative","scale":{"domain":[40.994,197.27],"nice":false,"zero":false},"axis":null}}}
],"resolve":{"axis":{"x":"independent","y":"independent"}}},
{"layer":[
{"data":{"values":[{}]},"mark":{"type":"point","opacity":0},"encoding":{
"x":{"datum":2,"type":"quantitative","scale":{"domain":[2,20],"nice":false,"zero":false},"axis":null},
"y":{"datum":40,"type":"quantitative","scale":{"domain":[16.1394,77.6654],"nice":false,"zero":false},"axis":{"orient":"left","offset":50,"title":null,"domain":false,"grid":false,"ticks":true,"tickSize":11,"tickColor":"#2a6bb1","tickWidth":1.3,"labels":true,"labelAlign":"center","labelPadding":14,"labelFontSize":20,"labelColor":"#2f6db3","values":[30,32,34,36,38,40,42,44,46,48,50,52,54,56,58,60,62]}}}},
{"data":{"values":[{}]},"mark":{"type":"point","opacity":0},"encoding":{
"x":{"datum":2,"type":"quantitative","scale":{"domain":[2,20],"nice":false,"zero":false},"axis":null},
"y":{"datum":40,"type":"quantitative","scale":{"domain":[16.1394,77.6654],"nice":false,"zero":false},"axis":{"orient":"right","offset":-850.3,"title":null,"domain":false,"grid":false,"ticks":true,"tickSize":11,"tickColor":"#2a6bb1","tickWidth":1.3,"labels":false,"values":[30,32,34,36,38,40,42,44,46,48,50,52,54,56,58,60,62]}}}},
{"data":{"values":[{}]},"mark":{"type":"point","opacity":0},"encoding":{
"x":{"datum":2,"type":"quantitative","scale":{"domain":[2,20],"nice":false,"zero":false},"axis":null},
"y":{"datum":40,"type":"quantitative","scale":{"domain":[16.1394,77.6654],"nice":false,"zero":false},"axis":{"orient":"left","offset":50,"title":null,"domain":false,"grid":false,"ticks":true,"tickSize":49.7,"tickColor":"#a9c8e8","tickWidth":0.8,"labels":false,"values":[30.5,31,31.5,32.5,33,33.5,34.5,35,35.5,36.5,37,37.5,38.5,39,39.5,40.5,41,41.5,42.5,43,43.5,44.5,45,45.5,46.5,47,47.5,48.5,49,49.5,50.5,51,51.5,52.5,53,53.5,54.5,55,55.5,56.5,57,57.5,58.5,59,59.5,60.5,61,61.5,62.5,63]}}}},
{"data":{"values":[{}]},"mark":{"type":"point","opacity":0},"encoding":{
"x":{"datum":2,"type":"quantitative","scale":{"domain":[2,20],"nice":false,"zero":false},"axis":null},
"y":{"datum":40,"type":"quantitative","scale":{"domain":[16.1394,77.6654],"nice":false,"zero":false},"axis":{"orient":"right","offset":49.4,"title":null,"domain":false,"grid":false,"ticks":true,"tickSize":11,"tickColor":"#2a6bb1","tickWidth":1.3,"labels":true,"labelAlign":"center","labelPadding":14,"labelFontSize":20,"labelColor":"#2f6db3","values":[60,62,64,66,68,70,72,74,76]}}}},
{"data":{"values":[{}]},"mark":{"type":"point","opacity":0},"encoding":{
"x":{"datum":2,"type":"quantitative","scale":{"domain":[2,20],"nice":false,"zero":false},"axis":null},
"y":{"datum":40,"type":"quantitative","scale":{"domain":[16.1394,77.6654],"nice":false,"zero":false},"axis":{"orient":"left","offset":-850,"title":null,"domain":false,"grid":false,"ticks":true,"tickSize":10,"tickColor":"#2a6bb1","tickWidth":1.3,"labels":false,"values":[60,62,64,66,68,70,72,74,76]}}}},
{"data":{"values":[{}]},"mark":{"type":"point","opacity":0},"encoding":{
"x":{"datum":2,"type":"quantitative","scale":{"domain":[2,20],"nice":false,"zero":false},"axis":null},
"y":{"datum":40,"type":"quantitative","scale":{"domain":[16.1394,77.6654],"nice":false,"zero":false},"axis":{"orient":"right","offset":49.4,"title":null,"domain":false,"grid":false,"ticks":true,"tickSize":50,"tickColor":"#a9c8e8","tickWidth":0.8,"labels":false,"values":[58.5,59,59.5,60.5,61,61.5,62.5,63,63.5,64.5,65,65.5,66.5,67,67.5,68.5,69,69.5,70.5,71,71.5,72.5,73,73.5,74.5,75,75.5]}}}}
],"resolve":{"axis":{"x":"independent","y":"independent"}}},
{"layer":[
{"data":{"values":[{}]},"mark":{"type":"point","opacity":0},"encoding":{
"x":{"datum":2,"type":"quantitative","scale":{"domain":[2,20],"nice":false,"zero":false},"axis":null},
"y":{"datum":40,"type":"quantitative","scale":{"domain":[5.994,162.27],"nice":false,"zero":false},"axis":{"orient":"left","offset":0,"title":null,"domain":false,"grid":false,"ticks":true,"tickSize":10,"tickColor":"#2a6bb1","tickWidth":1.3,"labels":true,"labelPadding":1.5,"labelFontSize":20,"labelColor":"#2f6db3","values":[10,15,20,25,30,35]}}}},
{"data":{"values":[{}]},"mark":{"type":"point","opacity":0},"encoding":{
"x":{"datum":2,"type":"quantitative","scale":{"domain":[2,20],"nice":false,"zero":false},"axis":null},
"y":{"datum":40,"type":"quantitative","scale":{"domain":[5.994,162.27],"nice":false,"zero":false},"axis":{"orient":"right","offset":-800.6,"title":null,"domain":false,"grid":false,"ticks":true,"tickSize":14,"tickColor":"#2a6bb1","tickWidth":1.3,"labels":false,"values":[10,15,20,25,30,35]}}}},
{"data":{"values":[{}]},"mark":{"type":"point","opacity":0},"encoding":{
"x":{"datum":2,"type":"quantitative","scale":{"domain":[2,20],"nice":false,"zero":false},"axis":null},
"y":{"datum":40,"type":"quantitative","scale":{"domain":[5.994,162.27],"nice":false,"zero":false},"axis":{"orient":"left","offset":0,"title":null,"domain":false,"grid":false,"ticks":true,"tickSize":50,"tickColor":"#a9c8e8","tickWidth":0.8,"labels":false,"values":[11,12,13,14,16,17,18,19,21,22,23,24,26,27,28,29,31,32,33,34,36,37]}}}},
{"data":{"values":[{}]},"mark":{"type":"point","opacity":0},"encoding":{
"x":{"datum":2,"type":"quantitative","scale":{"domain":[2,20],"nice":false,"zero":false},"axis":null},
"y":{"datum":40,"type":"quantitative","scale":{"domain":[5.994,162.27],"nice":false,"zero":false},"axis":{"orient":"left","offset":-800,"title":null,"domain":false,"grid":false,"ticks":true,"tickSize":7,"tickColor":"#2a6bb1","tickWidth":1.3,"labels":true,"labelPadding":1.5,"labelFontSize":20,"labelColor":"#2f6db3","values":[10,15,20,25,30,35,40,45,50,55,60,65,70,75,80,85,90,95,100,105]}}}},
{"data":{"values":[{}]},"mark":{"type":"point","opacity":0},"encoding":{
"x":{"datum":2,"type":"quantitative","scale":{"domain":[2,20],"nice":false,"zero":false},"axis":null},
"y":{"datum":40,"type":"quantitative","scale":{"domain":[5.994,162.27],"nice":false,"zero":false},"axis":{"orient":"right","offset":0,"title":null,"domain":false,"grid":false,"ticks":true,"tickSize":6.3,"tickColor":"#2a6bb1","tickWidth":1.3,"labels":false,"values":[100,105]}}}},
{"data":{"values":[{}]},"mark":{"type":"point","opacity":0},"encoding":{
"x":{"datum":2,"type":"quantitative","scale":{"domain":[2,20],"nice":false,"zero":false},"axis":null},
"y":{"datum":40,"type":"quantitative","scale":{"domain":[5.994,162.27],"nice":false,"zero":false},"axis":{"orient":"right","offset":0,"title":null,"domain":false,"grid":false,"ticks":true,"tickSize":16,"tickColor":"#2a6bb1","tickWidth":1.3,"labels":false,"values":[10,15,20,25,30,35,40,45,50,55,60,65,70,75,80,85,90,95]}}}},
{"data":{"values":[{}]},"mark":{"type":"point","opacity":0},"encoding":{
"x":{"datum":2,"type":"quantitative","scale":{"domain":[2,20],"nice":false,"zero":false},"axis":null},
"y":{"datum":40,"type":"quantitative","scale":{"domain":[5.994,162.27],"nice":false,"zero":false},"axis":{"orient":"right","offset":0,"title":null,"domain":false,"grid":false,"ticks":true,"tickSize":49.4,"tickColor":"#a9c8e8","tickWidth":0.8,"labels":false,"values":[11,12,13,14,16,17,18,19,21,22,23,24,26,27,28,29,31,32,33,34,36,37,38,39,41,42,43,44,46,47,48,49,51,52,53,54,56,57,58,59,61,62,63,64,66,67,68,69,71,72,73,74,76,77,78,79,81,82,83,84,86,87,88,89,91,92,93,94,96,97,98,99,101,102,103,104,106,107,108]}}}},
{"data":{"name":"weight"},"transform":[{"fold":["p3","p10","p25","p50","p75","p90","p97"],"as":["pct","kg"]}],
"mark":{"type":"line","interpolate":"catmull-rom","color":"#1763ad"},
"encoding":{"x":{"field":"age","type":"quantitative","scale":{"domain":[2,20],"nice":false,"zero":false},"axis":null},
"y":{"field":"kg","type":"quantitative","scale":{"domain":[5.994,162.27],"nice":false,"zero":false},"axis":null},
"detail":{"field":"pct","type":"nominal"},
"strokeWidth":{"field":"pct","type":"nominal","scale":{"type":"ordinal","domain":["p3","p10","p25","p50","p75","p90","p97"],"range":[3,1.2,1.2,3,1.2,1.2,3]},"legend":null}}},
{"data":{"name":"wtLab"},"mark":{"type":"point","shape":"square","filled":true,"color":"white","opacity":1,"size":289,"strokeWidth":0},
"encoding":{"x":{"datum":19.506,"type":"quantitative","scale":{"domain":[2,20],"nice":false,"zero":false},"axis":null},"y":{"field":"kg","type":"quantitative","scale":{"domain":[5.994,162.27],"nice":false,"zero":false},"axis":null}}},
{"data":{"name":"wtLab"},"mark":{"type":"text","fontSize":14.5,"color":"#2f6db3","align":"center","baseline":"middle"},
"encoding":{"x":{"datum":19.506,"type":"quantitative","scale":{"domain":[2,20],"nice":false,"zero":false},"axis":null},"y":{"field":"kg","type":"quantitative","scale":{"domain":[5.994,162.27],"nice":false,"zero":false},"axis":null},"text":{"field":"pct"}}},
{"data":{"name":"wtDots"},"mark":{"type":"circle","color":"#231f20","opacity":1,"size":170},
"encoding":{"x":{"field":"age","type":"quantitative","scale":{"domain":[2,20],"nice":false,"zero":false},"axis":null},"y":{"field":"kg","type":"quantitative","scale":{"domain":[5.994,162.27],"nice":false,"zero":false},"axis":null}}}
],"resolve":{"axis":{"x":"independent","y":"independent"}}},
{"layer":[
{"data":{"values":[{}]},"mark":{"type":"point","opacity":0},"encoding":{
"x":{"datum":2,"type":"quantitative","scale":{"domain":[2,20],"nice":false,"zero":false},"axis":null},
"y":{"datum":50,"type":"quantitative","scale":{"domain":[13.2146,357.744],"nice":false,"zero":false},"axis":{"orient":"left","offset":50,"title":null,"domain":false,"grid":false,"ticks":true,"tickSize":11,"tickColor":"#2a6bb1","tickWidth":1.3,"labels":true,"labelAlign":"center","labelPadding":14,"labelFontSize":20,"labelColor":"#2f6db3","values":[30,40,50,60,70,80]}}}},
{"data":{"values":[{}]},"mark":{"type":"point","opacity":0},"encoding":{
"x":{"datum":2,"type":"quantitative","scale":{"domain":[2,20],"nice":false,"zero":false},"axis":null},
"y":{"datum":50,"type":"quantitative","scale":{"domain":[13.2146,357.744],"nice":false,"zero":false},"axis":{"orient":"right","offset":-850.3,"title":null,"domain":false,"grid":false,"ticks":true,"tickSize":11,"tickColor":"#2a6bb1","tickWidth":1.3,"labels":false,"values":[30,40,50,60,70,80]}}}},
{"data":{"values":[{}]},"mark":{"type":"point","opacity":0},"encoding":{
"x":{"datum":2,"type":"quantitative","scale":{"domain":[2,20],"nice":false,"zero":false},"axis":null},
"y":{"datum":50,"type":"quantitative","scale":{"domain":[13.2146,357.744],"nice":false,"zero":false},"axis":{"orient":"left","offset":50,"title":null,"domain":false,"grid":false,"ticks":true,"tickSize":49.7,"tickColor":"#a9c8e8","tickWidth":0.8,"labels":false,"values":[22,24,26,28,32,34,36,38,42,44,46,48,52,54,56,58,62,64,66,68,72,74,76,78,82]}}}},
{"data":{"values":[{}]},"mark":{"type":"point","opacity":0},"encoding":{
"x":{"datum":2,"type":"quantitative","scale":{"domain":[2,20],"nice":false,"zero":false},"axis":null},
"y":{"datum":50,"type":"quantitative","scale":{"domain":[13.2146,357.744],"nice":false,"zero":false},"axis":{"orient":"right","offset":49.4,"title":null,"domain":false,"grid":false,"ticks":true,"tickSize":7,"tickColor":"#2a6bb1","tickWidth":1.3,"labels":true,"labelAlign":"center","labelPadding":18,"labelFontSize":20,"labelColor":"#2f6db3","values":[30,40,50,60,70,80,90,100,110,120,130,140,150,160,170,180,190,200,210,220,230]}}}},
{"data":{"values":[{}]},"mark":{"type":"point","opacity":0},"encoding":{
"x":{"datum":2,"type":"quantitative","scale":{"domain":[2,20],"nice":false,"zero":false},"axis":null},
"y":{"datum":50,"type":"quantitative","scale":{"domain":[13.2146,357.744],"nice":false,"zero":false},"axis":{"orient":"left","offset":-850,"title":null,"domain":false,"grid":false,"ticks":true,"tickSize":9,"tickColor":"#2a6bb1","tickWidth":1.3,"labels":false,"values":[30,40,50,60,70,80,90,100,110,120,130,140,150,160,170,180,190,200,210,220,230]}}}},
{"data":{"values":[{}]},"mark":{"type":"point","opacity":0},"encoding":{
"x":{"datum":2,"type":"quantitative","scale":{"domain":[2,20],"nice":false,"zero":false},"axis":null},
"y":{"datum":50,"type":"quantitative","scale":{"domain":[13.2146,357.744],"nice":false,"zero":false},"axis":{"orient":"right","offset":49.4,"title":null,"domain":false,"grid":false,"ticks":true,"tickSize":50,"tickColor":"#a9c8e8","tickWidth":0.8,"labels":false,"values":[22,24,26,28,32,34,36,38,42,44,46,48,52,54,56,58,62,64,66,68,72,74,76,78,82,84,86,88,92,94,96,98,102,104,106,108,112,114,116,118,122,124,126,128,132,134,136,138,142,144,146,148,152,154,156,158,162,164,166,168,172,174,176,178,182,184,186,188,192,194,196,198,202,204,206,208,212,214,216,218,222,224,226,228,232,234,236,238]}}}}
],"resolve":{"axis":{"x":"independent","y":"independent"}}}
],
"resolve":{"scale":{"y":"independent"},"axis":{"x":"independent","y":"independent"}}
}
